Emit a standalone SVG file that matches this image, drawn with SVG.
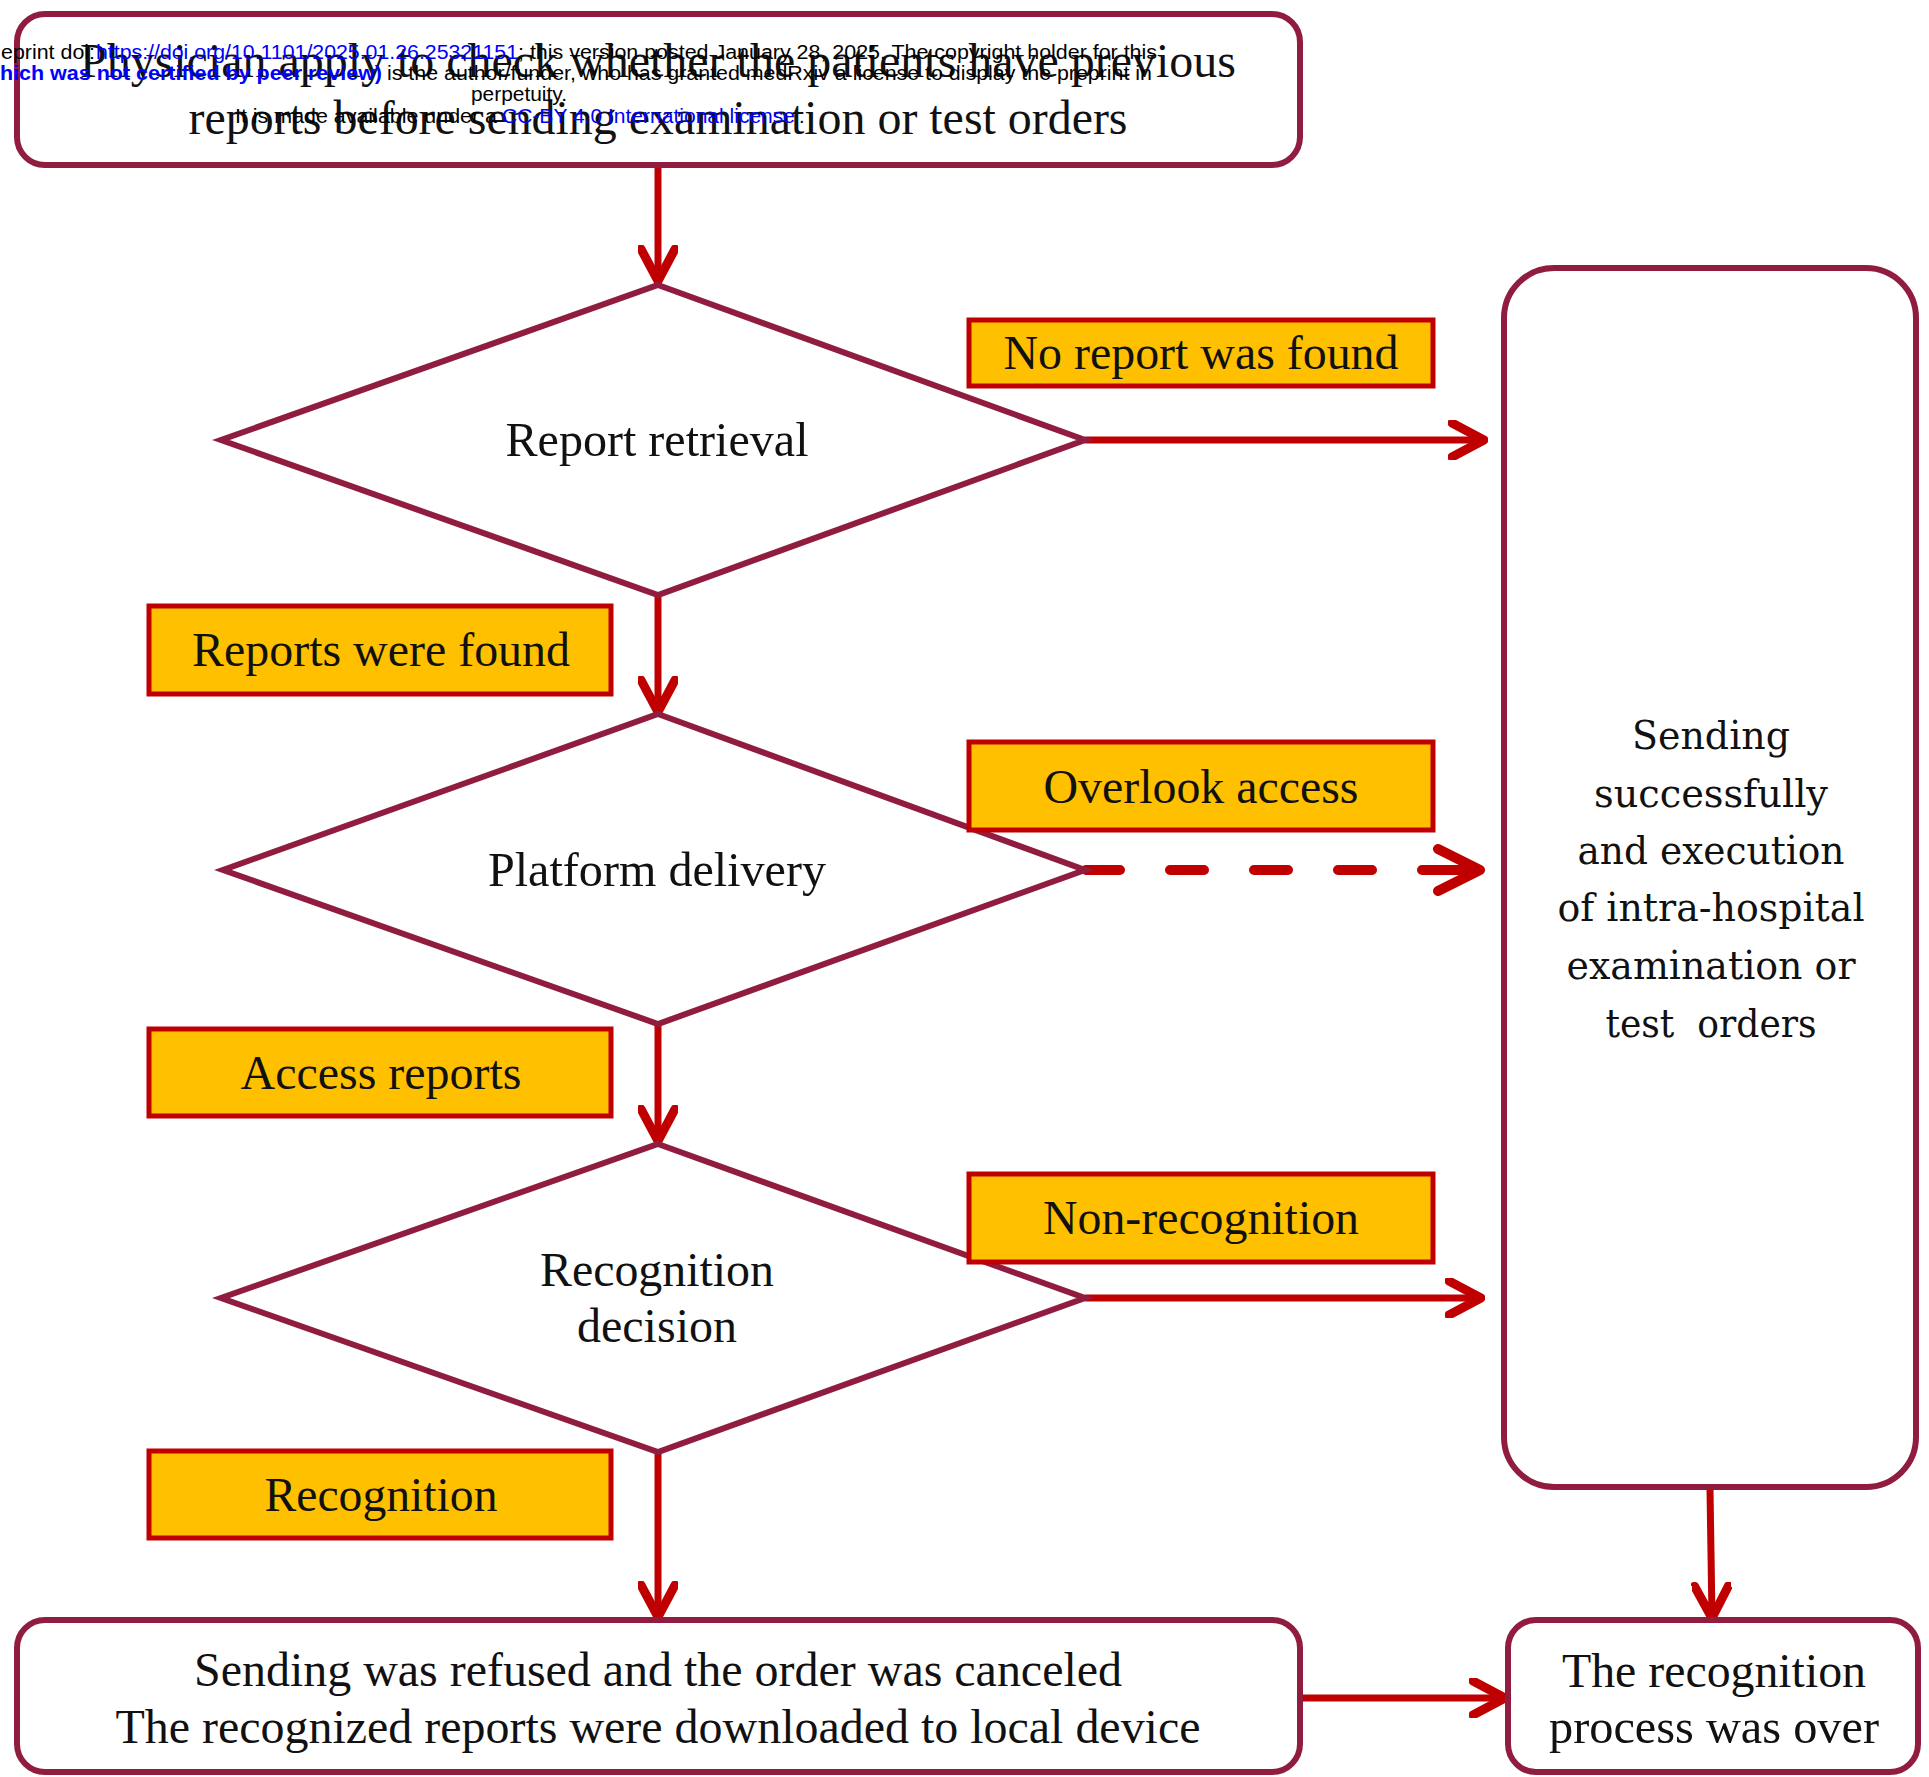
<svg xmlns="http://www.w3.org/2000/svg" width="1929" height="1777" viewBox="0 0 1929 1777">
<style>
.box{fill:#fff;stroke:#901D40;stroke-width:6}
.dia{fill:#fff;stroke:#901D40;stroke-width:6;stroke-linejoin:miter}
.lab{fill:#FFC000;stroke:#C00000;stroke-width:5}
.arr{fill:none;stroke:#C00000;stroke-width:7}
.dash{fill:none;stroke:#C00000;stroke-width:10;stroke-dasharray:34 50;stroke-linecap:round}
.t{font-family:'Liberation Serif','Times New Roman',serif;font-size:48px;fill:#111;text-anchor:middle}
.tw{font-family:'DejaVu Serif',serif;font-size:40px;fill:#111;text-anchor:middle}
.h{font-family:'Liberation Sans',Arial,sans-serif;font-size:20px;fill:#000}
.hb{fill:#0000FF}
</style>
<defs>
<marker id="ah" viewBox="0 0 40 40" refX="36" refY="20" markerWidth="40" markerHeight="40" markerUnits="userSpaceOnUse" orient="auto">
<path d="M4,3 L36,20 L4,37" fill="none" stroke="#C00000" stroke-width="9" stroke-linecap="round" stroke-linejoin="round"/>
</marker>
<marker id="ahL" viewBox="0 0 56 52" refX="50" refY="26" markerWidth="56" markerHeight="52" markerUnits="userSpaceOnUse" orient="auto">
<path d="M8,5 L50,26 L8,47 M22,26 L50,26" fill="none" stroke="#C00000" stroke-width="10" stroke-linecap="round" stroke-linejoin="round"/>
</marker>
</defs>

<g id="connectors">
<line class="arr" x1="658" y1="167" x2="658" y2="281" marker-end="url(#ah)"/>
<line class="arr" x1="658" y1="597" x2="658" y2="712" marker-end="url(#ah)"/>
<line class="arr" x1="658" y1="1025" x2="658" y2="1141" marker-end="url(#ah)"/>
<line class="arr" x1="658" y1="1454" x2="658" y2="1617" marker-end="url(#ah)"/>
<line class="arr" x1="1710" y1="1489" x2="1712" y2="1618" marker-end="url(#ah)"/>
<line class="arr" x1="1085" y1="440" x2="1484" y2="440" marker-end="url(#ah)"/>
<line class="dash" x1="1086" y1="870" x2="1480" y2="870" marker-end="url(#ahL)"/>
<line class="arr" x1="1085" y1="1298" x2="1481" y2="1298" marker-end="url(#ah)"/>
<line class="arr" x1="1302" y1="1698" x2="1505" y2="1698" marker-end="url(#ah)"/>
</g>

<g id="start">
<rect class="box" x="17" y="14" width="1283" height="151" rx="28"/>
<text class="t" x="658" y="77" textLength="1156" lengthAdjust="spacingAndGlyphs">Physician apply to check whether the patients have previous</text>
<text class="t" x="658" y="134" textLength="939" lengthAdjust="spacingAndGlyphs">reports before sending examination or test orders</text>
</g>

<g id="report-retrieval">
<polygon class="dia" points="658,285 1085,440 658,595 221,440"/>
<text class="t" x="657" y="456" textLength="303" lengthAdjust="spacingAndGlyphs">Report retrieval</text>
</g>

<g id="platform-delivery">
<polygon class="dia" points="658,714 1085,870 658,1024 223,870"/>
<text class="t" x="657" y="886" textLength="338" lengthAdjust="spacingAndGlyphs">Platform delivery</text>
</g>

<g id="recognition-decision">
<polygon class="dia" points="658,1144 1085,1298 658,1452 221,1298"/>
<text class="t" x="657" y="1286" textLength="234" lengthAdjust="spacingAndGlyphs">Recognition</text>
<text class="t" x="657" y="1342" textLength="160" lengthAdjust="spacingAndGlyphs">decision</text>
</g>

<g id="label-no-report">
<rect class="lab" x="969" y="320" width="464" height="66"/>
<text class="t" x="1201" y="369" textLength="395" lengthAdjust="spacingAndGlyphs">No report was found</text>
</g>

<g id="label-reports-found">
<rect class="lab" x="149" y="606" width="462" height="88"/>
<text class="t" x="381" y="666" textLength="378" lengthAdjust="spacingAndGlyphs">Reports were found</text>
</g>

<g id="label-overlook">
<rect class="lab" x="969" y="742" width="464" height="88"/>
<text class="t" x="1201" y="803" textLength="315" lengthAdjust="spacingAndGlyphs">Overlook access</text>
</g>

<g id="label-access">
<rect class="lab" x="149" y="1029" width="462" height="87"/>
<text class="t" x="381" y="1089" textLength="281" lengthAdjust="spacingAndGlyphs">Access reports</text>
</g>

<g id="label-non-recognition">
<rect class="lab" x="969" y="1174" width="464" height="88"/>
<text class="t" x="1201" y="1234" textLength="316" lengthAdjust="spacingAndGlyphs">Non-recognition</text>
</g>

<g id="label-recognition">
<rect class="lab" x="149" y="1451" width="462" height="87"/>
<text class="t" x="381" y="1511" textLength="233" lengthAdjust="spacingAndGlyphs">Recognition</text>
</g>

<g id="success">
<rect class="box" x="1504" y="268" width="412" height="1219" rx="50"/>
<text class="tw" x="1711" y="749" textLength="158" lengthAdjust="spacingAndGlyphs">Sending</text>
<text class="tw" x="1711" y="807" textLength="234" lengthAdjust="spacingAndGlyphs">successfully</text>
<text class="tw" x="1711" y="864" textLength="267" lengthAdjust="spacingAndGlyphs">and execution</text>
<text class="tw" x="1711" y="921" textLength="307" lengthAdjust="spacingAndGlyphs">of intra-hospital</text>
<text class="tw" x="1711" y="979" textLength="289" lengthAdjust="spacingAndGlyphs">examination or</text>
<text class="tw" x="1711" y="1037" textLength="211" lengthAdjust="spacingAndGlyphs" xml:space="preserve">test  orders</text>
</g>

<g id="refused">
<rect class="box" x="17" y="1620" width="1283" height="152" rx="28"/>
<text class="t" x="658" y="1686" textLength="928" lengthAdjust="spacingAndGlyphs">Sending was refused and the order was canceled</text>
<text class="t" x="658" y="1743" textLength="1085" lengthAdjust="spacingAndGlyphs">The recognized reports were downloaded to local device</text>
</g>

<g id="over">
<rect class="box" x="1508" y="1620" width="410" height="152" rx="28"/>
<text class="t" x="1714" y="1687" textLength="304" lengthAdjust="spacingAndGlyphs">The recognition</text>
<text class="t" x="1714" y="1743" textLength="330" lengthAdjust="spacingAndGlyphs">process was over</text>
</g>

<g id="header">
<text class="h" x="1" y="59" textLength="94" lengthAdjust="spacingAndGlyphs">eprint doi:</text>
<text class="h hb" x="96" y="59" textLength="422" lengthAdjust="spacingAndGlyphs">https://doi.org/10.1101/2025.01.26.25321151</text>
<text class="h" x="518" y="59" textLength="639" lengthAdjust="spacingAndGlyphs">; this version posted January 28, 2025. The copyright holder for this</text>
<text class="h hb" x="0" y="80" font-weight="bold" textLength="382" lengthAdjust="spacingAndGlyphs">hich was not certified by peer review)</text>
<text class="h" x="387" y="80" textLength="765" lengthAdjust="spacingAndGlyphs">is the author/funder, who has granted medRxiv a license to display the preprint in</text>
<text class="h" x="471" y="101" textLength="96" lengthAdjust="spacingAndGlyphs">perpetuity.</text>
<text class="h" x="235" y="123" textLength="262" lengthAdjust="spacingAndGlyphs">It is made available under a</text>
<text class="h hb" x="502" y="123" textLength="293" lengthAdjust="spacingAndGlyphs">CC-BY 4.0 International license</text>
<text class="h" x="799" y="123">.</text>
</g>
</svg>
